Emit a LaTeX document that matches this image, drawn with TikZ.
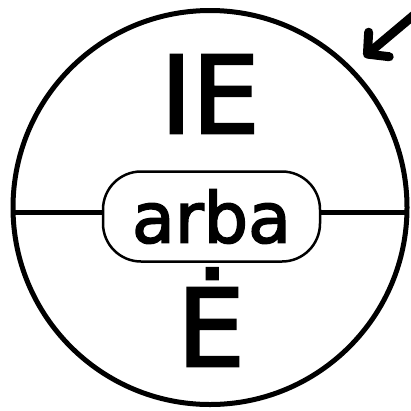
\documentclass[tikz,border=0pt]{standalone}
\usepackage{fontspec}
\setmainfont{DejaVu Sans}
\newfontfamily\heavy{DejaVu Sans}[FakeBold=2.5]
\usetikzlibrary{arrows.meta}
\begin{document}
\begin{tikzpicture}[x=1pt,y=-1pt,
  ring/.style={circle,draw,line width=5pt,minimum size=394pt,inner sep=0pt},
  pill/.style={draw,line width=2.5pt,rounded corners=38pt,minimum width=217pt,minimum height=90pt,inner sep=0pt,fill=white,font=\heavy\fontsize{70}{70}\selectfont},
  big/.style={font=\heavy\fontsize{107}{107}\selectfont,inner sep=0pt,anchor=base},
  bar/.style={line width=5pt},
  pointer/.style={line width=9pt,line cap=round,-{Straight Barb[length=15pt,width=32pt,round]}}]
\useasboundingbox (0,0) rectangle (411,410);
\node[ring] (c) at (210,207.5) {};
\coordinate (L) at (12,212);
\coordinate (R) at (408,212);
\node[pill] (r) at (211.5,216.5) {arba};
\draw[bar] (L) -- (r.west |- L);
\draw[bar] (r.east |- R) -- (R);
\node[big] (top) at (210,133) {IE};
\node[big] (bot) at (211,366) {Ė};
\coordinate (t) at (414,15);
\coordinate (h) at (364,57);
\draw[pointer] (t) -- (h);
\end{tikzpicture}
\end{document}
